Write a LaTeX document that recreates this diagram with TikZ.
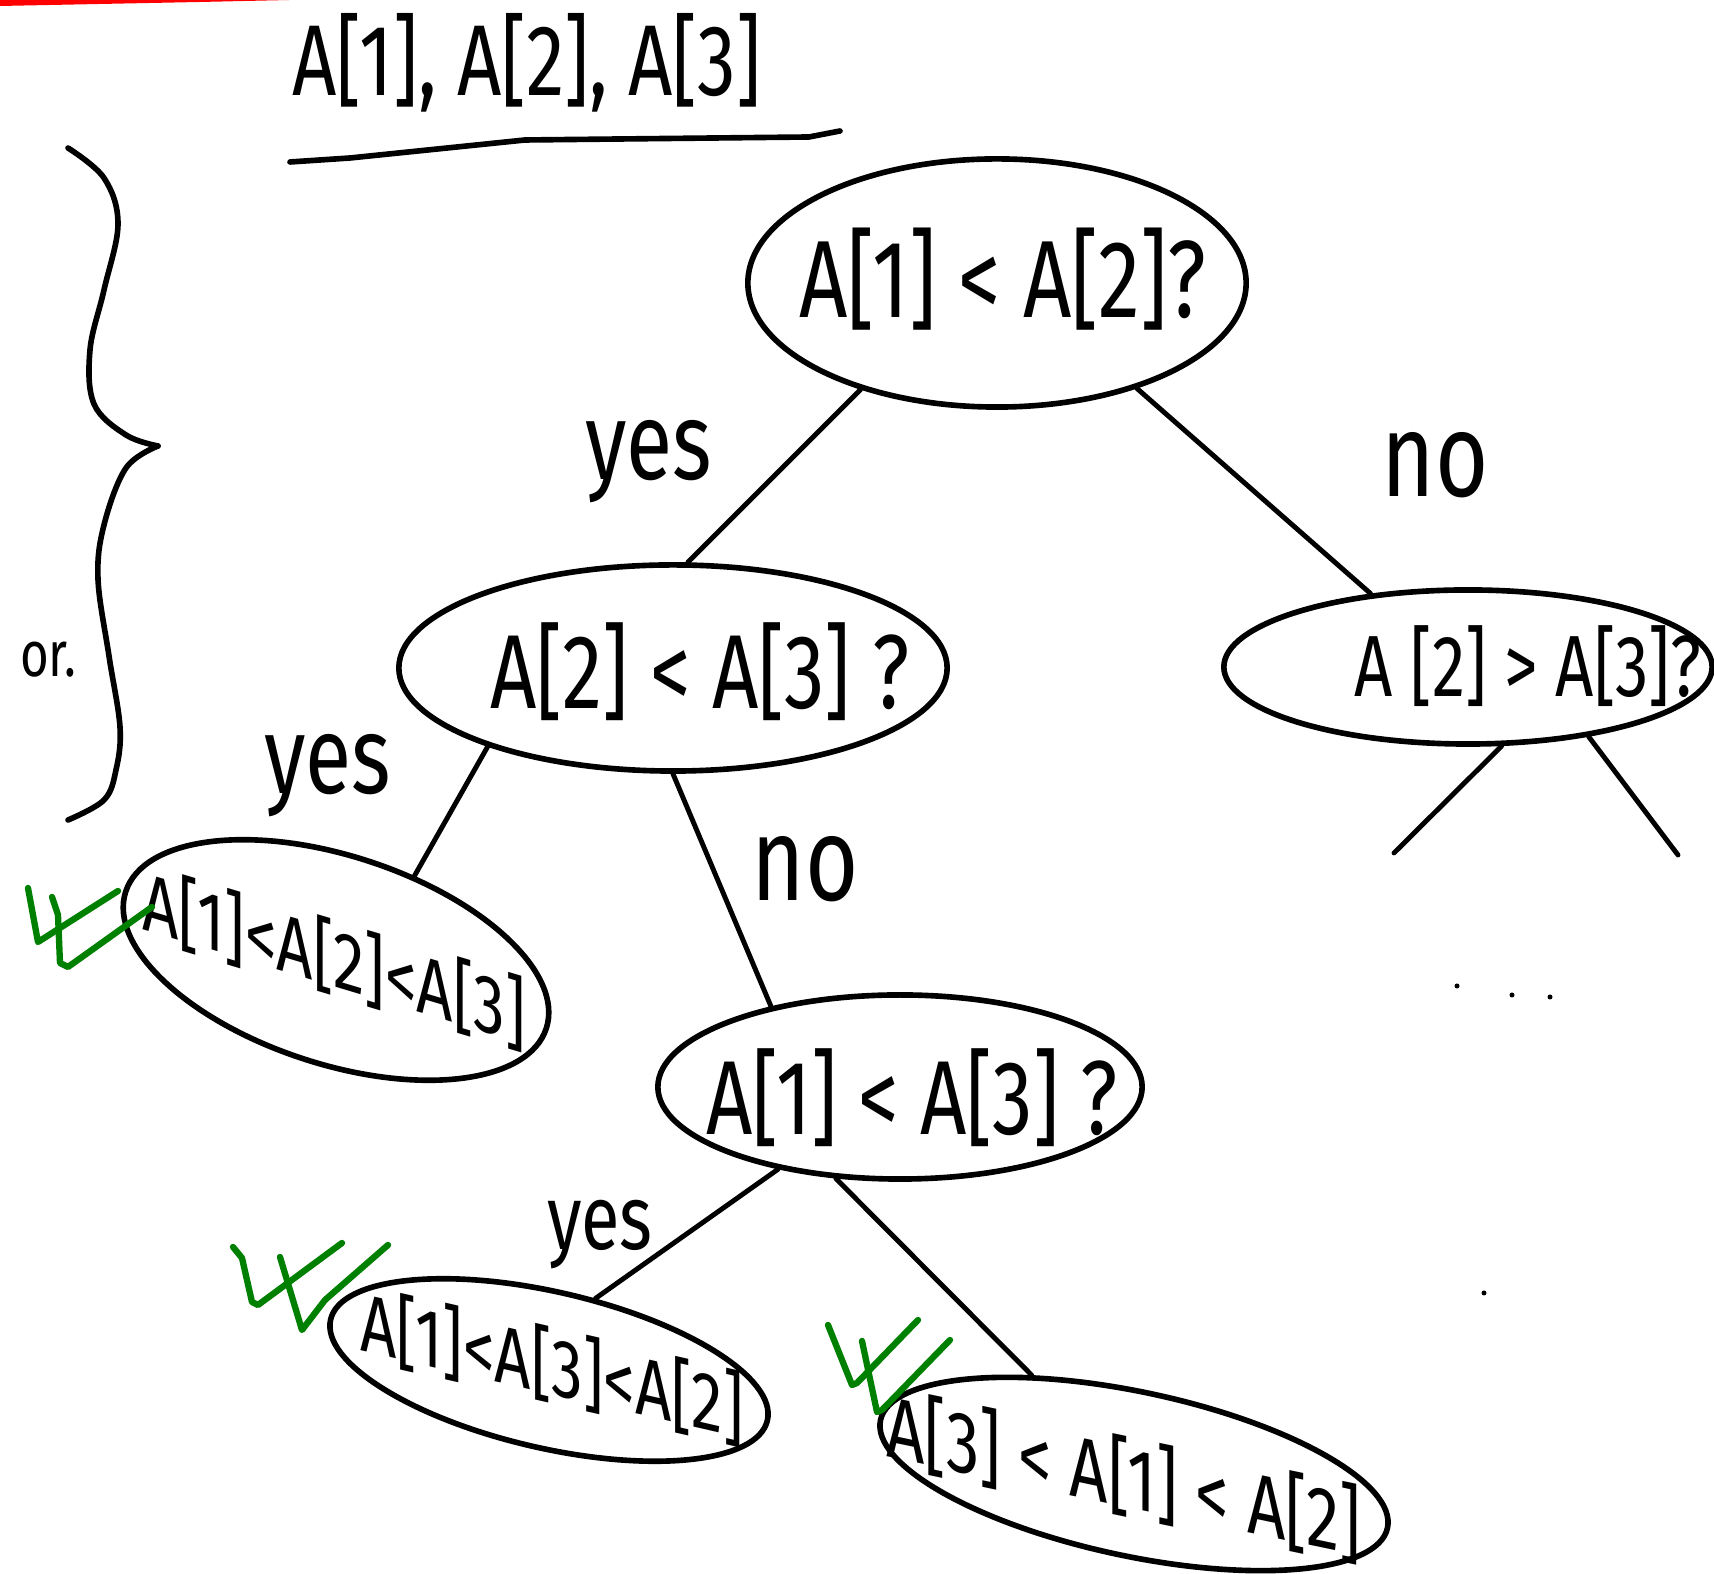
\documentclass[tikz,border=0pt]{standalone}
\usepackage{fontspec}
\usepackage{graphicx}
\setmainfont{Fira Sans}
\usetikzlibrary{shapes.geometric}
\definecolor{tickgreen}{RGB}{0,128,0}
\definecolor{penred}{RGB}{255,0,0}
% handwriting is tall and narrow: stretch glyphs vertically
\newcommand\tallword[1]{\scalebox{1}[1.3]{#1}}
\tikzset{
  oval/.style={draw, ellipse, line width=1.6pt, inner sep=0pt},
  words/.style={inner sep=0pt, font=\fontsize{#1}{#1}\selectfont},
  words/.default=24,
  branch/.style={line width=1.4pt, line cap=round},
  tick/.style={draw=tickgreen, line width=1.8pt, line cap=round, line join=round},
  pen/.style={line width=1.6pt, line cap=round, line join=round},
}
\begin{document}
\begin{tikzpicture}[x=0.01cm, y=-0.01cm]
\fill[white] (0,0) rectangle (1714,1574);
\useasboundingbox (0,0) rectangle (1714,1574);

% red pen stroke along the top edge
\fill[penred] (0,0) -- (290,0) -- (200,2) -- (0,6) -- cycle;

% heading and its underline
\node[words=22] (title) at (527,63) {\tallword{A[1], A[2], A[3]}};
\coordinate (ulL) at (290,162);
\coordinate (ulR) at (840,131);
\draw[pen] (ulL) -- (350,158) -- (525,140) -- (809,137) -- (ulR);

% curly brace with the note "or."
\draw[pen] plot[smooth, tension=0.6] coordinates {(68,148) (104,178) (118,224) (104,290) (90,350) (94,404) (126,435) (158,446)};
\draw[pen] plot[smooth, tension=0.6] coordinates {(158,446) (126,468) (104,525) (98,579) (109,656) (120,727) (116,770) (104,800) (68,820)};
\node[words=14] (ornote) at (48,660) {\tallword{or.}};

% decision nodes
\node[oval, minimum width=4.98cm, minimum height=2.48cm] (root) at (997,283) {};
\node[words=24] (roott) at (1003,279) {\tallword{A[1] < A[2]?}};

\node[oval, minimum width=5.48cm, minimum height=2.06cm] (l1) at (673,668) {};
\node[words=23] (l1t) at (700,672) {\tallword{A[2] < A[3] ?}};

\node[oval, minimum width=4.88cm, minimum height=1.54cm] (r1) at (1468,667) {};
\node[words=19] (r1t) at (1528,666) {\tallword{A [2] > A[3]?}};

\node[oval, minimum width=4.84cm, minimum height=1.84cm] (lr) at (900,1087) {};
\node[words=23] (lrt) at (912,1098) {\tallword{A[1] < A[3] ?}};

% leaves: the three orderings found (text runs downhill, letters upright)
\node[oval, rotate=-18, minimum width=4.42cm, minimum height=2.08cm] (ll) at (336,960) {};
\node[words=18, yslant=-0.3] (llt) at (334,958) {\tallword{A[1]<A[2]<A[3]}};

\node[oval, rotate=-13, minimum width=4.48cm, minimum height=1.56cm] (lrl) at (549,1370) {};
\node[words=18, yslant=-0.23] (lrlt) at (552,1366) {\tallword{A[1]<A[3]<A[2]}};

\node[oval, rotate=-12, minimum width=5.18cm, minimum height=1.64cm] (lrr) at (1134,1474) {};
\node[words=19, yslant=-0.21] (lrrt) at (1124,1476) {\tallword{A[3] < A[1] < A[2]}};

% branches
\draw[branch] (root.218) -- (l1.82);
\draw[branch] (root.323) -- (r1.143);
\draw[branch] (l1.203) -- (ll.65);
\draw[branch] (l1.270) -- (lr.148);
\draw[branch] (lr.214) -- (lrl.70);
\draw[branch] (lr.235) -- (lrr.148);
\coordinate (r1a) at (1394,853);
\coordinate (r1b) at (1678,855);
\draw[branch] (r1.293) -- (r1a);
\draw[branch] (r1.330) -- (r1b);

% branch labels
\node[words=24] (yes1) at (649,462) {\tallword{yes}};
\node[words=26] (no1) at (1435,465) {\tallword{no}};
\node[words=24] (yes2) at (328,776) {\tallword{yes}};
\node[words=26] (no2) at (805,869) {\tallword{no}};
\node[words=20] (yes3) at (600,1235) {\tallword{yes}};

% continuation dots
\fill (1457,986) circle (2.5);
\fill (1512,995) circle (2.5);
\fill (1550,997) circle (2.5);
\fill (1484,1293) circle (2.5);

% green double ticks next to the leaves
\draw[tick] (28,888) -- (38,942) -- (118,891);
\draw[tick] (52,897) -- (58,915) -- (60,963) -- (68,967) -- (152,907);
\draw[tick] (233,1247) -- (242,1258) -- (252,1302) -- (258,1305) -- (342,1243);
\draw[tick] (280,1257) -- (302,1330) -- (325,1300) -- (388,1245);
\draw[tick] (828,1325) -- (852,1385) -- (857,1383) -- (918,1320);
\draw[tick] (862,1341) -- (877,1412) -- (882,1410) -- (950,1340);
\end{tikzpicture}
\end{document}
